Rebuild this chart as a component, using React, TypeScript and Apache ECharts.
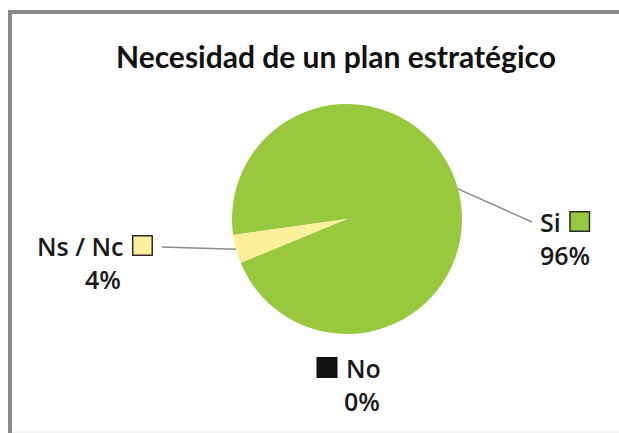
import React, { useEffect, useRef } from "react";
import * as echarts from "echarts";

const titleText = "Necesidad de un plan estratégico";
const categories = ["Si", "No", "Ns / Nc"];
const values = [96, 0, 4];
const sliceColors = ["#98c83d", "#111111", "#fbef9c"];

export default function App() {
  const ref = useRef<HTMLDivElement>(null);
  useEffect(() => {
    if (!ref.current) return;
    const chart = echarts.init(ref.current, undefined, { renderer: "svg" });
    const sq = (fill: string) => ({
      width: 18,
      height: 18,
      backgroundColor: fill,
      borderColor: "#2b2b2b",
      borderWidth: 1.5,
    });
    const labelFont = "'Open Sans', 'Noto Sans', sans-serif";
    const txt = { fontSize: 25, fontFamily: labelFont, fontWeight: 600, color: "#1a1a1a", lineHeight: 33 };
    const rich = {
      n: txt,
      p: txt,
      p4: { ...txt, padding: [0, 0, 0, 48] },
      p0: { ...txt, padding: [0, 0, 0, 26] },
      g: { width: 10, height: 18 },
      sqG: sq("#98c83d"),
      sqY: sq("#fbef9c"),
      sqK: { ...sq("#111111"), borderColor: "#111111" },
    };
    const formatters: Record<string, string> = {
      Si: "{n|Si}{g|}{sqG|}\n{p|{d}%}",
      "Ns / Nc": "{n|Ns / Nc}{g|}{sqY|}\n{p4|{d}%}",
      No: "{sqK|}{g|}{n|No}\n{p0|{d}%}",
    };
    const labelPos: Record<number, [number, number]> = {
      0: [540, 205],
      1: [318, 351],
      2: [37, 229],
    };
    const data = categories.map((name, i) => ({
      name,
      value: values[i],
      itemStyle: { color: sliceColors[i] },
      label: { formatter: formatters[name].replace("{d}", String(values[i])) },
      labelLine: { show: name !== "No" },
    }));
    chart.setOption({
      animation: false,
      backgroundColor: "#ffffff",
      title: {
        text: titleText,
        left: 116,
        top: 41,
        padding: 0,
        textStyle: {
          fontFamily: "Lato, 'Open Sans', sans-serif",
          fontWeight: "bold",
          fontSize: 30,
          color: "#111111",
        },
      },
      graphic: [
        { type: "line", shape: { x1: 10, y1: 12, x2: 619, y2: 12 }, style: { stroke: "#8a8a8a", lineWidth: 4 } },
        { type: "line", shape: { x1: 10, y1: 10, x2: 10, y2: 433 }, style: { stroke: "#8a8a8a", lineWidth: 4 } },
        { type: "line", shape: { x1: 12, y1: 432, x2: 619, y2: 432 }, style: { stroke: "#e8e8e8", lineWidth: 1 } },
      ],
      series: [
        {
          type: "pie",
          center: [347, 219],
          radius: 115,
          startAngle: 188,
          clockwise: true,
          avoidLabelOverlap: false,
          itemStyle: { borderWidth: 0 },
          label: {
            show: true,
            position: "outside",
            rich,
            align: "left",
          },
          labelLine: {
            show: true,
            length: 10,
            length2: 10,
            lineStyle: { color: "#8c8c8c", width: 1.5 },
          },
          labelLayout: (params: any) => {
            const [x, y] = labelPos[params.dataIndex];
            const pts = params.labelLinePoints;
            const res: any = { x, y, align: "left", verticalAlign: "top" };
            if (pts && params.dataIndex !== 1) {
              const end =
                params.dataIndex === 0
                  ? [x - 8, y + 17]
                  : [x + params.labelRect.width + 9, y + 18];
              res.labelLinePoints = [pts[0], end];
            }
            return res;
          },
          emphasis: { disabled: true },
          data,
        },
      ],
    });
    return () => chart.dispose();
  }, []);
  return (
    <div
      ref={ref}
      style={{ position: "fixed", left: 0, top: 0, width: 619, height: 433, background: "#fff" }}
    />
  );
}
